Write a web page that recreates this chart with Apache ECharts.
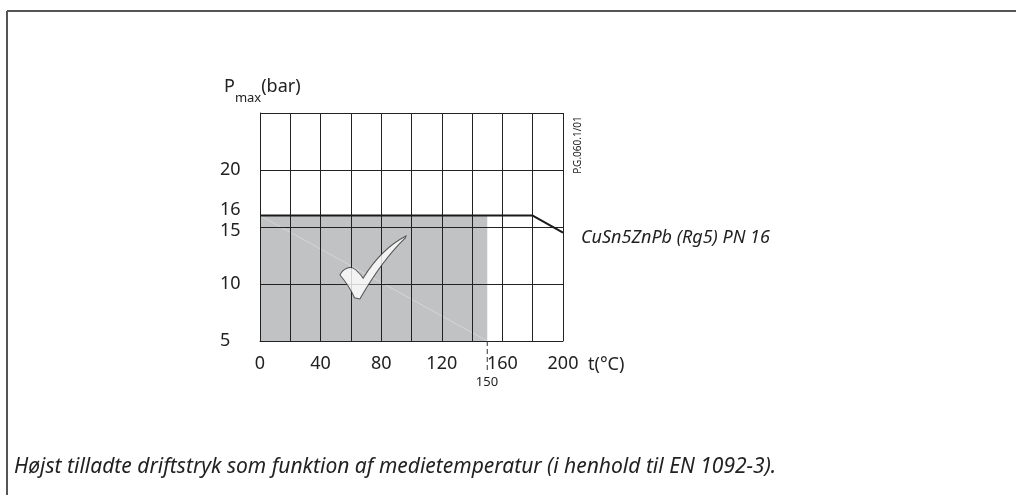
<!DOCTYPE html>
<html>
<head>
<meta charset="utf-8">
<script src="https://cdn.jsdelivr.net/npm/echarts@6/dist/echarts.min.js"></script>
<style>
  html, body { margin: 0; padding: 0; background: #fff; }
  #chart { width: 1016px; height: 495px; }
</style>
</head>
<body>
<div id="chart"></div>
<script>
// data
let xLabels = [0, 40, 80, 120, 160, 200];
let yLabels = [5, 10, 15, 16, 20];
let pnLine = [[0, 16], [180, 16], [200, 14.5]]; // CuSn5ZnPb (Rg5) PN 16
let okArea = [[0, 16], [150, 16]];               // allowed zone, 0..150 °C
let faintLine = [[0, 16], [150, 5]];
let limit150 = [[150, 5], [150, 2.3]];
let tickPos = [[74.6, 11.45]];

let fontMain = '"Noto Sans", "Open Sans", sans-serif';
// check mark glyph (white with dark outline)
let checkPath = 'path://M0 62 C4 52 16 46 24 54 C28 58 32 62 35 67 C52 38 74 14 100 0 L99 3 C78 24 52 60 30 100 L22 98 C16 84 8 72 0 62 Z';

let myChart = echarts.init(document.getElementById('chart'));

let option = {
    backgroundColor: '#fff',
    animation: false,
    grid: {
        left: 260,
        top: 113,
        width: 303,
        height: 228
    },
    xAxis: {
        type: 'value',
        min: 0,
        max: 200,
        interval: 20,
        name: 't(°C)',
        nameLocation: 'end',
        nameGap: 25,
        nameTextStyle: {
            color: '#222',
            fontSize: 18,
            fontFamily: fontMain,
            verticalAlign: 'top',
            padding: [15, 0, 0, 0]
        },
        axisLine: { show: true, lineStyle: { color: '#222', width: 1 } },
        axisTick: { show: false },
        axisLabel: {
            color: '#222',
            fontSize: 18,
            fontFamily: fontMain,
            margin: 14,
            formatter: function (v) {
                return xLabels.indexOf(v) >= 0 ? String(v) : '';
            }
        },
        splitLine: { show: true, lineStyle: { color: '#222', width: 1 } }
    },
    yAxis: {
        type: 'value',
        min: 5,
        max: 25,
        interval: 5,
        axisLine: { show: true, lineStyle: { color: '#222', width: 1 } },
        axisTick: { show: false },
        axisLabel: {
            customValues: yLabels,
            align: 'left',
            margin: 40,
            color: '#222',
            fontSize: 18,
            fontFamily: fontMain,
            formatter: function (v) {
                if (v === 16) return '{up|16}';
                if (v === 15) return '{dn|15}';
                return String(v);
            },
            rich: {
                up: { fontSize: 18, fontFamily: fontMain, color: '#222', padding: [0, 0, 12, 0] },
                dn: { fontSize: 18, fontFamily: fontMain, color: '#222', padding: [8, 0, 0, 0] }
            }
        },
        splitLine: { show: true, lineStyle: { color: '#222', width: 1 } }
    },
    series: [
        {
            name: 'area',
            type: 'line',
            z: -1,
            data: okArea,
            symbol: 'none',
            lineStyle: { width: 0 },
            areaStyle: { color: '#c1c2c4', origin: 'start', opacity: 1 }
        },
        {
            name: 'faint',
            type: 'line',
            z: -0.5,
            data: faintLine,
            symbol: 'none',
            lineStyle: { color: 'rgba(255,255,255,0.55)', width: 0.6 }
        },
        {
            name: 'CuSn5ZnPb (Rg5) PN 16',
            type: 'line',
            data: pnLine,
            symbol: 'none',
            lineStyle: { color: '#1a1a1a', width: 2 },
            endLabel: {
                show: true,
                formatter: 'CuSn5ZnPb (Rg5) PN 16',
                distance: 18,
                offset: [0, 5],
                color: '#222',
                fontSize: 18,
                fontStyle: 'italic',
                fontFamily: fontMain
            }
        },
        {
            name: '150',
            type: 'line',
            data: limit150,
            clip: false,
            symbol: 'none',
            lineStyle: { color: '#333', width: 1, type: [5, 3] }
        },
        {
            name: 'ok',
            type: 'scatter',
            data: tickPos,
            symbol: checkPath,
            symbolSize: [66, 63],
            itemStyle: { color: '#fff', borderColor: '#333', borderWidth: 1 }
        }
    ],
    graphic: [
        { type: 'line', shape: { x1: 7, y1: 11, x2: 1016, y2: 11 }, style: { stroke: '#555', lineWidth: 2 } },
        { type: 'line', shape: { x1: 7, y1: 11, x2: 7, y2: 495 }, style: { stroke: '#555', lineWidth: 2 } },
        {
            type: 'text', left: 224, top: 78,
            style: {
                text: '{a|P}{b|max}{a|(bar)}',
                rich: {
                    a: { fontSize: 18, fontFamily: fontMain, fill: '#222', verticalAlign: 'top' },
                    b: { fontSize: 13, fontFamily: fontMain, fill: '#222', padding: [14, 0, 0, 0] }
                }
            }
        },
        {
            type: 'text', x: 487, y: 382,
            style: { text: '150', fontSize: 13, fontFamily: fontMain, fill: '#222', align: 'center', verticalAlign: 'middle' }
        },
        {
            type: 'text', x: 578, y: 145, rotation: Math.PI / 2,
            style: { text: 'P.G.060.1/01', fontSize: 10, fontFamily: fontMain, fill: '#222', align: 'center', verticalAlign: 'middle' }
        },
        {
            type: 'text', left: 14, top: 457,
            style: {
                text: 'Højst tilladte driftstryk som funktion af medietemperatur (i henhold til EN 1092-3).',
                fontSize: 21, fontStyle: 'italic', fontFamily: fontMain, fill: '#222'
            }
        }
    ]
};

myChart.setOption(option);
</script>
</body>
</html>
